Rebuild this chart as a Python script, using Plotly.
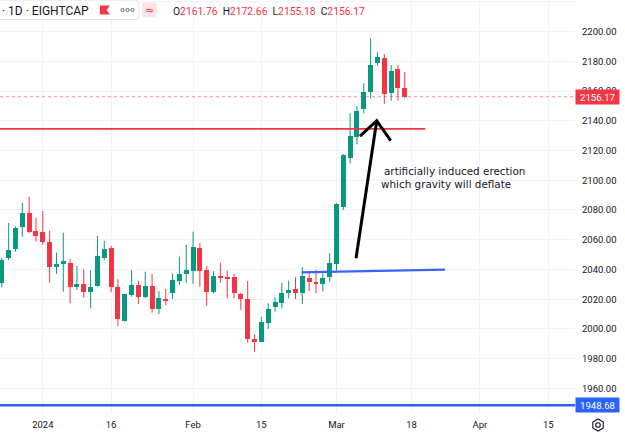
import plotly.graph_objects as go
import pandas as pd

# ---------------- data ----------------
dates = ["2023-12-21", "2023-12-22", "2023-12-26", "2023-12-27", "2023-12-28", "2023-12-29",
         "2024-01-02", "2024-01-03", "2024-01-04", "2024-01-05", "2024-01-08", "2024-01-09",
         "2024-01-10", "2024-01-11", "2024-01-12", "2024-01-15", "2024-01-16", "2024-01-17",
         "2024-01-18", "2024-01-19", "2024-01-22", "2024-01-23", "2024-01-24", "2024-01-25",
         "2024-01-26", "2024-01-29", "2024-01-30", "2024-01-31", "2024-02-01", "2024-02-02",
         "2024-02-05", "2024-02-06", "2024-02-07", "2024-02-08", "2024-02-09", "2024-02-12",
         "2024-02-13", "2024-02-14", "2024-02-15", "2024-02-16", "2024-02-19", "2024-02-20",
         "2024-02-21", "2024-02-22", "2024-02-23", "2024-02-26", "2024-02-27", "2024-02-28",
         "2024-02-29", "2024-03-01", "2024-03-04", "2024-03-05", "2024-03-06", "2024-03-07",
         "2024-03-08", "2024-03-11", "2024-03-12", "2024-03-13", "2024-03-14", "2024-03-15"]

opens = [2031.1, 2047.7, 2053.6, 2068.6, 2078.0, 2065.9,
         2065.4, 2058.7, 2041.5, 2043.7, 2044.6, 2028.0,
         2030.3, 2024.7, 2028.9, 2047.9, 2054.7, 2028.4,
         2005.4, 2023.1, 2029.6, 2021.3, 2029.1, 2013.2,
         2020.4, 2024.0, 2032.3, 2036.8, 2039.2, 2054.3,
         2039.7, 2025.1, 2035.8, 2035.2, 2034.7, 2023.5,
         2020.2, 1993.1, 1991.5, 2003.8, 2014.6, 2017.3,
         2024.0, 2026.7, 2024.4, 2034.5, 2031.8, 2030.3,
         2034.7, 2043.7, 2082.2, 2114.8, 2129.3, 2147.7,
         2159.1, 2179.1, 2182.0, 2158.4, 2174.6, 2161.76]
highs = [2048.0, 2071.3, 2069.0, 2084.9, 2088.9, 2074.8,
         2079.3, 2066.1, 2051.3, 2064.7, 2047.1, 2042.4,
         2040.1, 2039.7, 2062.5, 2059.2, 2055.8, 2033.4,
         2023.5, 2039.7, 2032.5, 2038.5, 2037.0, 2025.5,
         2026.9, 2037.4, 2048.6, 2056.5, 2065.4, 2057.6,
         2042.4, 2039.0, 2044.6, 2039.2, 2037.0, 2024.5,
         2032.3, 1996.4, 2008.2, 2017.3, 2021.3, 2031.1,
         2032.5, 2034.7, 2041.5, 2037.8, 2039.7, 2037.4,
         2050.9, 2084.5, 2117.6, 2145.0, 2149.9, 2165.2,
         2195.4, 2186.0, 2184.9, 2177.5, 2177.5, 2172.66]
lows = [2028.0, 2046.4, 2052.0, 2062.1, 2064.5, 2058.7,
        2056.5, 2031.1, 2037.0, 2025.1, 2017.3, 2026.2,
        2021.0, 2013.9, 2028.4, 2046.4, 2024.7, 2002.0,
        2005.0, 2021.7, 2016.8, 2020.6, 2011.0, 2010.1,
        2016.1, 2020.0, 2029.6, 2031.1, 2030.3, 2028.4,
        2015.5, 2024.0, 2031.1, 2020.6, 2020.6, 2012.8,
        1990.8, 1984.7, 1991.3, 2000.0, 2011.6, 2013.9,
        2020.6, 2020.2, 2016.8, 2025.5, 2024.0, 2025.1,
        2031.8, 2039.2, 2080.0, 2111.4, 2124.2, 2145.0,
        2155.1, 2177.0, 2151.3, 2153.5, 2153.5, 2155.18]
closes = [2046.4, 2053.1, 2068.1, 2078.0, 2065.2, 2062.7,
          2058.7, 2041.5, 2043.7, 2045.7, 2028.0, 2030.3,
          2024.7, 2028.4, 2049.1, 2053.8, 2028.0, 2006.5,
          2023.3, 2029.6, 2021.7, 2029.1, 2013.4, 2021.0,
          2018.6, 2032.9, 2037.0, 2039.5, 2054.9, 2039.2,
          2025.1, 2035.8, 2034.7, 2034.1, 2023.9, 2020.0,
          1993.1, 1991.9, 2004.5, 2013.4, 2018.4, 2024.4,
          2026.2, 2024.4, 2035.6, 2031.4, 2030.7, 2034.1,
          2044.6, 2083.7, 2117.0, 2129.7, 2146.5, 2159.1,
          2177.5, 2183.1, 2158.0, 2173.6, 2161.8, 2156.17]

tick_dates = ["2024-01-02", "2024-01-16", "2024-02-01", "2024-02-15", "2024-03-01",
              "2024-03-18", "2024-04-01", "2024-04-15"]
tick_labels = ["2024", "16", "Feb", "15", "Mar", "18", "Apr", "15"]
price_ticks = [1960, 1980, 2000, 2020, 2040, 2060, 2080, 2100, 2120, 2140, 2160, 2180, 2200, 2220]

red_level = 2134.5
red_level_end = "2024-03-20"
blue_trend_dates = ["2024-02-23", "2024-03-22"]
blue_trend_values = [2038.1, 2039.9]
support_level = 1948.68
last_price = 2156.17

# arrow drawn on chart (bar index offsets from 2024-03-01, price)
arrow_x = [2.86, 5.89, None, 3.44, 5.89, 7.94]
arrow_y = [2047.5, 2140.0, None, 2129.7, 2140.0, 2126.6]

# ---------------- helpers ----------------
green = "#089981"
red = "#f23645"
blue = "#2962ff"
txt = "#131722"
grid = "#f0f3fa"

anchor = dates.index("2024-01-02")
pos = {d: i - anchor for i, d in enumerate(dates)}
last_idx = pos[dates[-1]]
future = pd.bdate_range(pd.Timestamp(dates[-1]) + pd.Timedelta(days=1), periods=40)
for k, d in enumerate(future):
    pos[d.strftime("%Y-%m-%d")] = last_idx + k + 1

xs = [pos[d] for d in dates]
x_mar1 = pos["2024-03-01"]

W, H = 625, 439
ML, MR, MT, MB = 0, 50, 0, 26
PW, PH = W - ML - MR, H - MT - MB
STEP = 6.83
X0PX = 42.8
x_range = [(0 - X0PX) / STEP, (PW - X0PX) / STEP]
y_range = [1943.5, 2221.2]


def px(x):
    return x / PW


def py(y):
    return 1 - y / PH


fig = go.Figure()

# bodies
for up in (True, False):
    bx, bb, bh = [], [], []
    wx, wy = [], []
    for x, o, h, l, c in zip(xs, opens, highs, lows, closes):
        if (c >= o) != up:
            continue
        bx.append(x)
        bb.append(min(o, c))
        bh.append(max(abs(c - o), 0.7))
        wx += [x, x, None]
        wy += [l, h, None]
    col = green if up else red
    fig.add_trace(go.Scatter(x=wx, y=wy, mode="lines", line=dict(color=col, width=1),
                             hoverinfo="skip", showlegend=False))
    fig.add_trace(go.Bar(x=bx, y=bh, base=bb, width=0.73, marker=dict(color=col, line=dict(width=0)),
                         hoverinfo="skip", showlegend=False))

# horizontal red level
fig.add_trace(go.Scatter(x=[x_range[0], pos[red_level_end]], y=[red_level, red_level], mode="lines",
                         line=dict(color=red, width=1.8), showlegend=False, hoverinfo="skip"))
# blue trend line
fig.add_trace(go.Scatter(x=[pos[blue_trend_dates[0]] - 0.1, pos[blue_trend_dates[1]] + 0.9],
                         y=blue_trend_values, mode="lines",
                         line=dict(color="#3d63f5", width=2.2), showlegend=False, hoverinfo="skip"))
# support line
fig.add_trace(go.Scatter(x=[x_range[0], x_range[1]], y=[support_level, support_level], mode="lines",
                         line=dict(color=blue, width=2.6), showlegend=False, hoverinfo="skip",
                         cliponaxis=False))
# last price dotted
fig.add_trace(go.Scatter(x=[x_range[0], x_range[1]], y=[last_price, last_price], mode="lines",
                         line=dict(color="rgba(242,54,69,0.55)", width=1, dash="dot"),
                         showlegend=False, hoverinfo="skip"))
# arrow
fig.add_trace(go.Scatter(x=[None if a is None else a + x_mar1 for a in arrow_x], y=arrow_y,
                         mode="lines", line=dict(color="#000000", width=3), showlegend=False,
                         hoverinfo="skip"))

shapes = []
annotations = []

# header box
def rrect(x0, y0, x1, y1, r):
    return (f"M{px(x0 + r)},{py(y0)} L{px(x1 - r)},{py(y0)} Q{px(x1)},{py(y0)} {px(x1)},{py(y0 + r)} "
            f"L{px(x1)},{py(y1 - r)} Q{px(x1)},{py(y1)} {px(x1 - r)},{py(y1)} L{px(x0 + r)},{py(y1)} "
            f"Q{px(x0)},{py(y1)} {px(x0)},{py(y1 - r)} L{px(x0)},{py(y0 + r)} Q{px(x0)},{py(y0)} {px(x0 + r)},{py(y0)} Z")

shapes.append(dict(type="path", xref="paper", yref="paper", path=rrect(-6, 0, 139, 19.5, 4),
                   fillcolor="white", line=dict(color="#e0e3eb", width=1), layer="above"))
shapes.append(dict(type="path", xref="paper", yref="paper", path=rrect(142, 2.5, 157, 17.5, 3),
                   fillcolor="#fde4e6", line=dict(width=0), layer="above"))
# flag icon
shapes.append(dict(type="path", xref="paper", yref="paper",
                   path=f"M{px(100)},{py(5.5)} L{px(110)},{py(5.5)} L{px(106.5)},{py(10)} L{px(110)},{py(14.5)} L{px(100)},{py(14.5)} Z",
                   fillcolor=red, line=dict(width=0), layer="above"))
for cx in (122.5, 127.5, 132.5):
    shapes.append(dict(type="circle", xref="paper", yref="paper", x0=px(cx - 1.6), x1=px(cx + 1.6),
                       y0=py(11.6), y1=py(8.4), fillcolor="white", line=dict(color="#6a6d78", width=1),
                       layer="above"))

annotations.append(dict(xref="paper", yref="paper", x=px(0), y=py(10.5), xanchor="left", yanchor="middle",
                        text="· 1D · EIGHTCAP", showarrow=False,
                        font=dict(family="Roboto", size=12, color=txt)))
annotations.append(dict(xref="paper", yref="paper", x=px(149.5), y=py(10), xanchor="center", yanchor="middle",
                        text="≈", showarrow=False, font=dict(family="DejaVu Sans", size=11, color=red)))
ohlc_vals = [("O", opens[-1]), ("H", highs[-1]), ("L", lows[-1]), ("C", closes[-1])]
ohlc_txt = "&nbsp;&nbsp;".join(f"{k}<span style='color:{red}'>{v:.2f}</span>" for k, v in ohlc_vals)
annotations.append(dict(xref="paper", yref="paper", x=px(171), y=py(11), xanchor="left", yanchor="middle",
                        text=ohlc_txt, showarrow=False, font=dict(family="Roboto", size=10.3, color=txt)))

# comment text
annotations.append(dict(xref="x", yref="paper", x=(382 - X0PX) / STEP, y=py(171), xanchor="left",
                        yanchor="middle", text="artificially induced erection", showarrow=False,
                        font=dict(family="DejaVu Sans", size=10.4, color=txt)))
annotations.append(dict(xref="x", yref="paper", x=(379 - X0PX) / STEP, y=py(184), xanchor="left",
                        yanchor="middle", text="which gravity will deflate", showarrow=False,
                        font=dict(family="DejaVu Sans", size=10.4, color=txt)))

# price boxes
for val, col in ((last_price, red), (support_level, blue)):
    annotations.append(dict(xref="paper", yref="y", x=1.0, y=val, xanchor="left", yanchor="middle",
                            text=f"{val:.2f}", showarrow=False, bgcolor=col, width=41, height=12,
                            borderpad=1, font=dict(family="Roboto", size=9.6, color="white")))

# gear icon
import math
gc = (598, 425)
hexp = []
for k in range(6):
    a = math.pi / 6 + k * math.pi / 3
    hexp.append((gc[0] + 6 * math.cos(a), gc[1] + 6 * math.sin(a)))
path = "M" + " L".join(f"{px(x)},{py(y)}" for x, y in hexp) + " Z"
shapes.append(dict(type="path", xref="paper", yref="paper", path=path, line=dict(color=txt, width=1.1)))
shapes.append(dict(type="circle", xref="paper", yref="paper", x0=px(gc[0] - 2.3), x1=px(gc[0] + 2.3),
                   y0=py(gc[1] + 2.3), y1=py(gc[1] - 2.3), line=dict(color=txt, width=1.1)))

fig.update_layout(
    width=W, height=H, margin=dict(l=ML, r=MR, t=MT, b=MB),
    paper_bgcolor="white", plot_bgcolor="white",
    barmode="overlay", bargap=0, showlegend=False,
    shapes=shapes, annotations=annotations,
    font=dict(family="Roboto", size=9.5, color=txt),
    xaxis=dict(range=x_range, tickmode="array", tickvals=[pos[d] for d in tick_dates], ticktext=tick_labels,
               showgrid=True, gridcolor=grid, gridwidth=1, zeroline=False, showline=False, ticks="",
               tickfont=dict(family="Roboto", size=9.5, color=txt), ticklabelstandoff=4, fixedrange=True),
    yaxis=dict(range=y_range, side="right", tickmode="array", tickvals=price_ticks,
               ticktext=[f"{v:.2f}" for v in price_ticks],
               showgrid=True, gridcolor=grid, gridwidth=1, zeroline=False, showline=False, ticks="",
               tickfont=dict(family="Roboto", size=9.5, color=txt), ticklabelstandoff=6, fixedrange=True),
)

fig.write_html("out.html")
